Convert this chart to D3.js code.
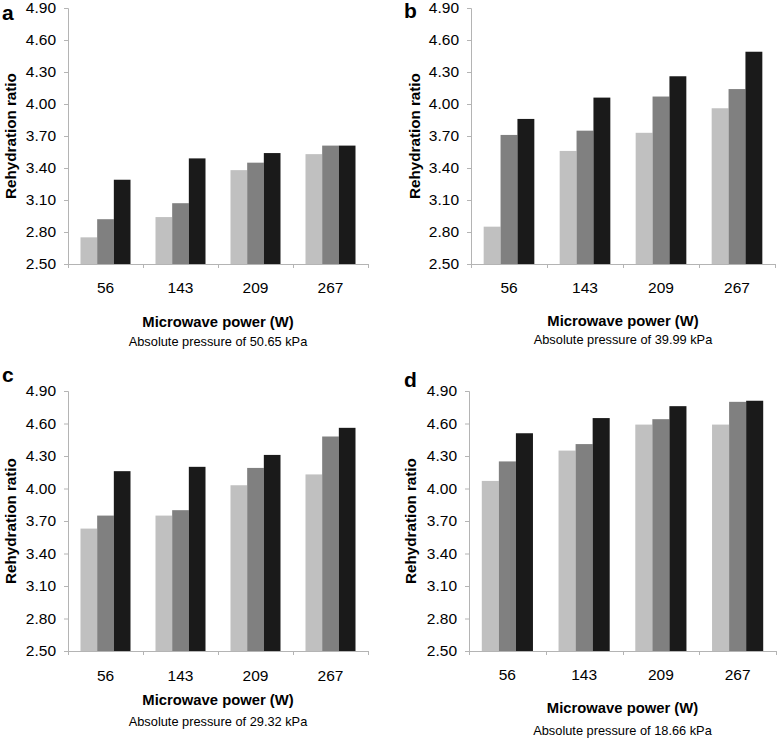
<!DOCTYPE html>
<html>
<head>
<meta charset="utf-8">
<script src="https://cdn.jsdelivr.net/npm/d3@7"></script>
<style>
  html, body { margin: 0; padding: 0; background: #fff; }
  svg { display: block; font-family: "Liberation Sans", Arial, sans-serif; }
</style>
</head>
<body>
<svg id="chart" width="777" height="739"></svg>
<script>
// ---- data ----
const categories = ["56", "143", "209", "267"];
const seriesNames = ["s1", "s2", "s3"];
const yTicks = [2.5, 2.8, 3.1, 3.4, 3.7, 4.0, 4.3, 4.6, 4.9];
const panelLetters = ["a", "b", "c", "d"];
const subtitles = [
  "Absolute pressure of 50.65 kPa",
  "Absolute pressure of 39.99 kPa",
  "Absolute pressure of 29.32 kPa",
  "Absolute pressure of 18.66 kPa"
];
// values per category: [light, medium, dark]
const valuesA = [[2.75, 2.92, 3.29], [2.94, 3.07, 3.49], [3.38, 3.45, 3.54], [3.53, 3.61, 3.61]];
const valuesB = [[2.85, 3.71, 3.86], [3.56, 3.75, 4.06], [3.73, 4.07, 4.26], [3.96, 4.14, 4.49]];
const valuesC = [[3.63, 3.75, 4.16], [3.75, 3.80, 4.20], [4.03, 4.19, 4.31], [4.13, 4.48, 4.56]];
const valuesD = [[4.07, 4.25, 4.51], [4.35, 4.41, 4.65], [4.59, 4.64, 4.76], [4.59, 4.80, 4.81]];
const panelValues = [valuesA, valuesB, valuesC, valuesD];

// ---- layout ----
const layouts = [
  { left: 68,  right: 368, top: 8,   bottom: 264, ylabX: 11,  letterX: 2,   letterY: 20,  tickY: 293, titleY: 327, subY: 346 },
  { left: 471, right: 775, top: 8,   bottom: 264, ylabX: 415, letterX: 404, letterY: 18,  tickY: 293, titleY: 326, subY: 344 },
  { left: 68,  right: 368, top: 391, bottom: 651, ylabX: 11,  letterX: 2,   letterY: 382, tickY: 681, titleY: 705, subY: 726 },
  { left: 469, right: 776, top: 391, bottom: 651, ylabX: 411, letterX: 404, letterY: 387, tickY: 680, titleY: 713, subY: 735 }
];
const colors = d3.scaleOrdinal().domain(seriesNames).range(["#c0c0c0", "#808080", "#1a1a1a"]);
const axisColor = "#b4b4b4";

const svg = d3.select("#chart");

layouts.forEach((L, i) => {
  const g = svg.append("g");
  const x0 = d3.scaleBand().domain(categories).range([L.left, L.right]).padding(0);
  const bw = x0.bandwidth();
  const x1 = d3.scaleBand().domain(seriesNames).range([bw / 6, bw * 5 / 6]).padding(0);
  const y = d3.scaleLinear().domain([2.5, 4.9]).range([L.bottom, L.top]);

  // bars
  const data = panelValues[i];
  categories.forEach((c, ci) => {
    g.selectAll(null)
      .data(seriesNames.map((s, si) => ({ s, v: data[ci][si] })))
      .enter().append("rect")
      .attr("x", d => x0(c) + x1(d.s))
      .attr("width", x1.bandwidth())
      .attr("y", d => y(d.v))
      .attr("height", d => y(2.5) - y(d.v))
      .attr("fill", d => colors(d.s));
  });

  // y axis
  const ya = g.append("g").attr("transform", `translate(${L.left},0)`)
    .call(d3.axisLeft(y).tickValues(yTicks).tickFormat(d3.format(".2f")).tickSize(4).tickPadding(8));
  ya.select(".domain").attr("stroke", axisColor);
  ya.selectAll(".tick line").attr("stroke", axisColor);
  ya.selectAll(".tick text").attr("fill", "#000").style("font-size", "15.5px").style("font-family", "'Liberation Sans', Arial, sans-serif");

  // x axis line + boundary ticks
  g.append("line").attr("x1", L.left).attr("x2", L.right).attr("y1", L.bottom + 0.5).attr("y2", L.bottom + 0.5).attr("stroke", axisColor);
  const bounds = categories.map(c => x0(c)).concat([L.right]);
  g.selectAll(null).data(bounds).enter().append("line")
    .attr("x1", d => Math.round(d) + 0.5).attr("x2", d => Math.round(d) + 0.5)
    .attr("y1", L.bottom).attr("y2", L.bottom + 4).attr("stroke", axisColor);
  g.selectAll(null).data(categories).enter().append("text")
    .attr("x", d => x0(d) + bw / 2).attr("y", L.tickY)
    .attr("text-anchor", "middle").style("font-size", "15.5px").text(d => d);

  // titles
  const cx = (L.left + L.right) / 2;
  g.append("text").attr("x", cx).attr("y", L.titleY).attr("text-anchor", "middle")
    .style("font-size", "14.8px").style("font-weight", "bold").text("Microwave power (W)");
  g.append("text").attr("x", cx).attr("y", L.subY).attr("text-anchor", "middle")
    .style("font-size", "12.8px").text(subtitles[i]);
  g.append("text").attr("transform", `translate(${L.ylabX + 5},${(L.top + L.bottom) / 2}) rotate(-90)`)
    .attr("text-anchor", "middle").style("font-size", "15.2px").style("font-weight", "bold").text("Rehydration ratio");
  g.append("text").attr("x", L.letterX).attr("y", L.letterY)
    .style("font-size", "21px").style("font-weight", "bold").text(panelLetters[i]);
});
</script>
</body>
</html>
